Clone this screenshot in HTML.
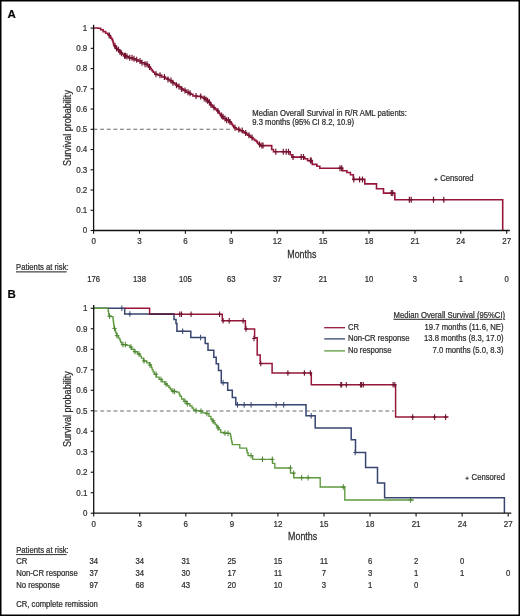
<!DOCTYPE html>
<html><head><meta charset="utf-8"><style>
html,body{margin:0;padding:0;background:#fff;}
body{width:520px;height:616px;overflow:hidden;}
svg{display:block;will-change:transform;}
text{stroke:#3a3a3a;stroke-width:0.22px;}
</style></head><body>
<svg width="520" height="616" viewBox="0 0 520 616" font-family='"Liberation Sans", sans-serif'>
<rect x="0" y="0" width="520" height="616" fill="#fff"/>
<rect x="0.75" y="0.75" width="518.5" height="614.5" fill="none" stroke="#000" stroke-width="1.5"/>

<text transform="translate(7.40,17.60) scale(1,1.0)" font-size="11.5" text-anchor="start" font-weight="bold" fill="#000" font-family='"Liberation Sans", sans-serif'>A</text>
<line x1="93.5" y1="129.3" x2="229.8" y2="129.3" stroke="#6a6a6a" stroke-width="1.1" stroke-dasharray="3.9 2.73"/>
<polyline points="93.60,28.00 96.60,28.00 97.95,28.00 97.95,28.30 99.30,28.30 100.65,28.30 100.65,29.70 102.00,29.70 103.15,29.70 103.15,31.60 104.30,31.60 105.65,31.60 105.65,33.20 107.00,33.20 107.75,33.20 107.75,34.30 108.50,34.30 108.90,34.30 108.90,35.45 109.70,35.45 109.70,36.60 110.10,36.60 110.85,36.60 110.85,38.20 111.60,38.20 111.90,38.20 111.90,39.35 112.50,39.35 112.50,40.50 112.80,40.50 112.97,40.50 112.97,42.00 113.33,42.00 113.33,43.50 113.50,43.50 113.70,43.50 113.70,44.65 114.10,44.65 114.10,45.80 114.30,45.80 115.05,45.80 115.05,47.40 115.80,47.40 116.40,47.40 116.40,48.55 117.60,48.55 117.60,49.70 118.20,49.70 118.78,49.70 118.78,50.85 119.92,50.85 119.92,52.00 120.50,52.00 121.08,52.00 121.08,53.15 122.22,53.15 122.22,54.30 122.80,54.30 123.95,54.30 123.95,55.80 125.10,55.80 126.25,55.80 126.25,56.60 127.40,56.60 128.95,56.60 128.95,57.80 130.50,57.80 132.15,57.80 132.15,58.70 133.80,58.70 135.00,58.70 135.00,59.80 136.20,59.80 137.90,59.80 137.90,61.00 139.60,61.00 141.30,61.00 141.30,62.70 143.00,62.70 144.75,62.70 144.75,64.20 146.50,64.20 147.50,64.20 147.50,65.60 148.50,65.60 149.07,65.60 149.07,67.05 150.23,67.05 150.23,68.50 150.80,68.50 151.28,68.50 151.28,69.77 152.25,69.77 152.25,71.03 153.22,71.03 153.22,72.30 153.70,72.30 154.85,72.30 154.85,74.20 156.00,74.20 158.00,74.20 158.00,75.30 160.00,75.30 161.75,75.30 161.75,77.00 163.50,77.00 165.25,77.00 165.25,78.40 167.00,78.40 167.85,78.40 167.85,79.50 169.55,79.50 169.55,80.60 170.40,80.60 171.25,80.60 171.25,81.70 172.95,81.70 172.95,82.80 173.80,82.80 174.68,82.80 174.68,84.00 176.43,84.00 176.43,85.20 177.30,85.20 178.18,85.20 178.18,86.50 179.93,86.50 179.93,87.80 180.80,87.80 181.65,87.80 181.65,89.10 183.35,89.10 183.35,90.40 184.20,90.40 185.95,90.40 185.95,92.30 187.70,92.30 188.57,92.30 188.57,93.30 190.32,93.30 190.32,94.30 191.20,94.30 192.90,94.30 192.90,96.00 194.60,96.00 196.90,96.00 196.90,96.40 199.20,96.40 200.95,96.40 200.95,97.30 202.70,97.30 203.75,97.30 203.75,98.40 205.85,98.40 205.85,99.50 206.90,99.50 207.47,99.50 207.47,100.85 208.62,100.85 208.62,102.20 209.20,102.20 209.77,102.20 209.77,103.60 210.93,103.60 210.93,105.00 211.50,105.00 212.07,105.00 212.07,106.25 213.23,106.25 213.23,107.50 213.80,107.50 214.53,107.50 214.53,108.65 215.97,108.65 215.97,109.80 216.70,109.80 217.18,109.80 217.18,110.97 218.15,110.97 218.15,112.13 219.12,112.13 219.12,113.30 219.60,113.30 219.98,113.30 219.98,114.43 220.75,114.43 220.75,115.57 221.52,115.57 221.52,116.70 221.90,116.70 223.05,116.70 223.05,118.50 224.20,118.50 225.95,118.50 225.95,120.20 227.70,120.20 229.15,120.20 229.15,121.90 230.60,121.90 230.98,121.90 230.98,123.07 231.75,123.07 231.75,124.23 232.52,124.23 232.52,125.40 232.90,125.40 233.32,125.40 233.32,126.55 234.18,126.55 234.18,127.70 234.60,127.70 236.35,127.70 236.35,129.40 238.10,129.40 239.80,129.40 239.80,130.60 241.50,130.60 242.38,130.60 242.38,131.75 244.12,131.75 244.12,132.90 245.00,132.90 245.88,132.90 245.88,134.05 247.62,134.05 247.62,135.20 248.50,135.20 249.35,135.20 249.35,136.35 251.05,136.35 251.05,137.50 251.90,137.50 252.78,137.50 252.78,138.95 254.53,138.95 254.53,140.40 255.40,140.40 256.05,140.40 256.05,141.00 256.70,141.00 257.00,141.00 257.00,142.15 257.60,142.15 257.60,143.30 257.90,143.30 258.75,143.30 258.75,144.40 259.60,144.40 260.05,144.40 260.05,145.60 260.50,145.60 271.70,145.60 271.70,149.50 273.50,149.50 273.50,151.70 290.20,151.70 290.20,154.80 291.90,154.80 291.90,157.10 304.60,157.10 304.60,158.80 307.50,158.80 307.50,160.60 312.30,160.60 312.30,164.40 316.90,164.40 316.90,166.20 319.80,166.20 319.80,168.20 342.50,168.20 342.50,170.80 346.90,170.80 346.90,172.50 350.40,172.50 350.40,174.80 353.30,174.80 353.30,179.40 364.80,179.40 364.80,183.90 376.50,183.90 376.50,188.70 383.50,188.70 383.50,193.10 394.80,193.10 394.80,199.70 502.70,199.70 502.70,230.50" fill="none" stroke="#961739" stroke-width="1.6" stroke-linejoin="miter"/>
<path d="M109.30 32.45V38.45M107.50 35.45H111.10" stroke="#721430" stroke-width="1.2" fill="none"/>
<path d="M115.00 42.80V48.80M113.20 45.80H116.80" stroke="#721430" stroke-width="1.2" fill="none"/>
<path d="M116.60 45.55V51.55M114.80 48.55H118.40" stroke="#721430" stroke-width="1.2" fill="none"/>
<path d="M118.50 46.70V52.70M116.70 49.70H120.30" stroke="#721430" stroke-width="1.2" fill="none"/>
<path d="M120.00 49.00V55.00M118.20 52.00H121.80" stroke="#721430" stroke-width="1.2" fill="none"/>
<path d="M121.50 50.15V56.15M119.70 53.15H123.30" stroke="#721430" stroke-width="1.2" fill="none"/>
<path d="M124.60 52.80V58.80M122.80 55.80H126.40" stroke="#721430" stroke-width="1.2" fill="none"/>
<path d="M125.50 52.80V58.80M123.70 55.80H127.30" stroke="#721430" stroke-width="1.2" fill="none"/>
<path d="M127.00 53.60V59.60M125.20 56.60H128.80" stroke="#721430" stroke-width="1.2" fill="none"/>
<path d="M129.70 54.80V60.80M127.90 57.80H131.50" stroke="#721430" stroke-width="1.2" fill="none"/>
<path d="M132.00 54.80V60.80M130.20 57.80H133.80" stroke="#721430" stroke-width="1.2" fill="none"/>
<path d="M134.00 55.70V61.70M132.20 58.70H135.80" stroke="#721430" stroke-width="1.2" fill="none"/>
<path d="M136.70 56.80V62.80M134.90 59.80H138.50" stroke="#721430" stroke-width="1.2" fill="none"/>
<path d="M140.00 58.00V64.00M138.20 61.00H141.80" stroke="#721430" stroke-width="1.2" fill="none"/>
<path d="M142.00 59.70V65.70M140.20 62.70H143.80" stroke="#721430" stroke-width="1.2" fill="none"/>
<path d="M145.00 61.20V67.20M143.20 64.20H146.80" stroke="#721430" stroke-width="1.2" fill="none"/>
<path d="M147.00 61.20V67.20M145.20 64.20H148.80" stroke="#721430" stroke-width="1.2" fill="none"/>
<path d="M149.50 64.05V70.05M147.70 67.05H151.30" stroke="#721430" stroke-width="1.2" fill="none"/>
<path d="M156.00 71.20V77.20M154.20 74.20H157.80" stroke="#721430" stroke-width="1.2" fill="none"/>
<path d="M160.00 72.30V78.30M158.20 75.30H161.80" stroke="#721430" stroke-width="1.2" fill="none"/>
<path d="M164.40 74.00V80.00M162.60 77.00H166.20" stroke="#721430" stroke-width="1.2" fill="none"/>
<path d="M168.00 76.50V82.50M166.20 79.50H169.80" stroke="#721430" stroke-width="1.2" fill="none"/>
<path d="M171.00 77.60V83.60M169.20 80.60H172.80" stroke="#721430" stroke-width="1.2" fill="none"/>
<path d="M173.00 79.80V85.80M171.20 82.80H174.80" stroke="#721430" stroke-width="1.2" fill="none"/>
<path d="M176.50 82.20V88.20M174.70 85.20H178.30" stroke="#721430" stroke-width="1.2" fill="none"/>
<path d="M179.00 83.50V89.50M177.20 86.50H180.80" stroke="#721430" stroke-width="1.2" fill="none"/>
<path d="M181.70 86.10V92.10M179.90 89.10H183.50" stroke="#721430" stroke-width="1.2" fill="none"/>
<path d="M185.00 87.40V93.40M183.20 90.40H186.80" stroke="#721430" stroke-width="1.2" fill="none"/>
<path d="M188.00 89.30V95.30M186.20 92.30H189.80" stroke="#721430" stroke-width="1.2" fill="none"/>
<path d="M190.00 90.30V96.30M188.20 93.30H191.80" stroke="#721430" stroke-width="1.2" fill="none"/>
<path d="M196.00 93.00V99.00M194.20 96.00H197.80" stroke="#721430" stroke-width="1.2" fill="none"/>
<path d="M200.70 93.40V99.40M198.90 96.40H202.50" stroke="#721430" stroke-width="1.2" fill="none"/>
<path d="M204.20 95.40V101.40M202.40 98.40H206.00" stroke="#721430" stroke-width="1.2" fill="none"/>
<path d="M206.00 96.50V102.50M204.20 99.50H207.80" stroke="#721430" stroke-width="1.2" fill="none"/>
<path d="M207.60 97.85V103.85M205.80 100.85H209.40" stroke="#721430" stroke-width="1.2" fill="none"/>
<path d="M209.40 99.20V105.20M207.60 102.20H211.20" stroke="#721430" stroke-width="1.2" fill="none"/>
<path d="M211.00 102.00V108.00M209.20 105.00H212.80" stroke="#721430" stroke-width="1.2" fill="none"/>
<path d="M214.00 104.50V110.50M212.20 107.50H215.80" stroke="#721430" stroke-width="1.2" fill="none"/>
<path d="M218.00 107.97V113.97M216.20 110.97H219.80" stroke="#721430" stroke-width="1.2" fill="none"/>
<path d="M221.50 112.57V118.57M219.70 115.57H223.30" stroke="#721430" stroke-width="1.2" fill="none"/>
<path d="M223.00 113.70V119.70M221.20 116.70H224.80" stroke="#721430" stroke-width="1.2" fill="none"/>
<path d="M225.00 115.50V121.50M223.20 118.50H226.80" stroke="#721430" stroke-width="1.2" fill="none"/>
<path d="M226.70 117.20V123.20M224.90 120.20H228.50" stroke="#721430" stroke-width="1.2" fill="none"/>
<path d="M228.50 117.20V123.20M226.70 120.20H230.30" stroke="#721430" stroke-width="1.2" fill="none"/>
<path d="M230.00 118.90V124.90M228.20 121.90H231.80" stroke="#721430" stroke-width="1.2" fill="none"/>
<path d="M235.00 124.70V130.70M233.20 127.70H236.80" stroke="#721430" stroke-width="1.2" fill="none"/>
<path d="M238.80 126.40V132.40M237.00 129.40H240.60" stroke="#721430" stroke-width="1.2" fill="none"/>
<path d="M242.20 127.60V133.60M240.40 130.60H244.00" stroke="#721430" stroke-width="1.2" fill="none"/>
<path d="M245.70 129.90V135.90M243.90 132.90H247.50" stroke="#721430" stroke-width="1.2" fill="none"/>
<path d="M249.00 132.20V138.20M247.20 135.20H250.80" stroke="#721430" stroke-width="1.2" fill="none"/>
<path d="M252.00 134.50V140.50M250.20 137.50H253.80" stroke="#721430" stroke-width="1.2" fill="none"/>
<path d="M259.60 141.40V147.40M257.80 144.40H261.40" stroke="#721430" stroke-width="1.2" fill="none"/>
<path d="M261.90 142.60V148.60M260.10 145.60H263.70" stroke="#721430" stroke-width="1.2" fill="none"/>
<path d="M263.00 142.60V148.60M261.20 145.60H264.80" stroke="#721430" stroke-width="1.2" fill="none"/>
<path d="M275.80 148.70V154.70M274.00 151.70H277.60" stroke="#721430" stroke-width="1.2" fill="none"/>
<path d="M283.30 148.70V154.70M281.50 151.70H285.10" stroke="#721430" stroke-width="1.2" fill="none"/>
<path d="M286.20 148.70V154.70M284.40 151.70H288.00" stroke="#721430" stroke-width="1.2" fill="none"/>
<path d="M288.50 148.70V154.70M286.70 151.70H290.30" stroke="#721430" stroke-width="1.2" fill="none"/>
<path d="M293.00 154.10V160.10M291.20 157.10H294.80" stroke="#721430" stroke-width="1.2" fill="none"/>
<path d="M301.20 154.10V160.10M299.40 157.10H303.00" stroke="#721430" stroke-width="1.2" fill="none"/>
<path d="M303.50 154.10V160.10M301.70 157.10H305.30" stroke="#721430" stroke-width="1.2" fill="none"/>
<path d="M310.40 157.60V163.60M308.60 160.60H312.20" stroke="#721430" stroke-width="1.2" fill="none"/>
<path d="M311.20 157.60V163.60M309.40 160.60H313.00" stroke="#721430" stroke-width="1.2" fill="none"/>
<path d="M340.00 165.20V171.20M338.20 168.20H341.80" stroke="#721430" stroke-width="1.2" fill="none"/>
<path d="M341.70 165.20V171.20M339.90 168.20H343.50" stroke="#721430" stroke-width="1.2" fill="none"/>
<path d="M353.80 176.40V182.40M352.00 179.40H355.60" stroke="#721430" stroke-width="1.2" fill="none"/>
<path d="M359.60 176.40V182.40M357.80 179.40H361.40" stroke="#721430" stroke-width="1.2" fill="none"/>
<path d="M362.50 176.40V182.40M360.70 179.40H364.30" stroke="#721430" stroke-width="1.2" fill="none"/>
<path d="M391.30 190.10V196.10M389.50 193.10H393.10" stroke="#721430" stroke-width="1.2" fill="none"/>
<path d="M392.70 190.10V196.10M390.90 193.10H394.50" stroke="#721430" stroke-width="1.2" fill="none"/>
<path d="M409.40 196.70V202.70M407.60 199.70H411.20" stroke="#721430" stroke-width="1.2" fill="none"/>
<path d="M411.20 196.70V202.70M409.40 199.70H413.00" stroke="#721430" stroke-width="1.2" fill="none"/>
<path d="M433.50 196.70V202.70M431.70 199.70H435.30" stroke="#721430" stroke-width="1.2" fill="none"/>
<path d="M443.80 196.70V202.70M442.00 199.70H445.60" stroke="#721430" stroke-width="1.2" fill="none"/>
<g stroke="#111" fill="none">
<line x1="93.6" y1="24.8" x2="93.6" y2="231.1" stroke-width="1.3"/>
<line x1="93.0" y1="230.5" x2="509.8" y2="230.5" stroke-width="1.3"/>
<line x1="90.6" y1="230.50" x2="93.6" y2="230.50" stroke-width="1.1"/>
<line x1="90.6" y1="210.26" x2="93.6" y2="210.26" stroke-width="1.1"/>
<line x1="90.6" y1="190.02" x2="93.6" y2="190.02" stroke-width="1.1"/>
<line x1="90.6" y1="169.78" x2="93.6" y2="169.78" stroke-width="1.1"/>
<line x1="90.6" y1="149.54" x2="93.6" y2="149.54" stroke-width="1.1"/>
<line x1="90.6" y1="129.30" x2="93.6" y2="129.30" stroke-width="1.1"/>
<line x1="90.6" y1="109.06" x2="93.6" y2="109.06" stroke-width="1.1"/>
<line x1="90.6" y1="88.82" x2="93.6" y2="88.82" stroke-width="1.1"/>
<line x1="90.6" y1="68.58" x2="93.6" y2="68.58" stroke-width="1.1"/>
<line x1="90.6" y1="48.34" x2="93.6" y2="48.34" stroke-width="1.1"/>
<line x1="90.6" y1="28.10" x2="93.6" y2="28.10" stroke-width="1.1"/>
<line x1="93.60" y1="230.5" x2="93.60" y2="233.7" stroke-width="1.1"/>
<line x1="139.50" y1="230.5" x2="139.50" y2="233.7" stroke-width="1.1"/>
<line x1="185.40" y1="230.5" x2="185.40" y2="233.7" stroke-width="1.1"/>
<line x1="231.30" y1="230.5" x2="231.30" y2="233.7" stroke-width="1.1"/>
<line x1="277.20" y1="230.5" x2="277.20" y2="233.7" stroke-width="1.1"/>
<line x1="323.10" y1="230.5" x2="323.10" y2="233.7" stroke-width="1.1"/>
<line x1="369.00" y1="230.5" x2="369.00" y2="233.7" stroke-width="1.1"/>
<line x1="414.90" y1="230.5" x2="414.90" y2="233.7" stroke-width="1.1"/>
<line x1="460.80" y1="230.5" x2="460.80" y2="233.7" stroke-width="1.1"/>
<line x1="506.70" y1="230.5" x2="506.70" y2="233.7" stroke-width="1.1"/>
</g>
<g fill="#2a2a2a" font-family='"Liberation Sans", sans-serif'>
<text transform="translate(87.30,233.40) scale(1,1.07)" font-size="8" text-anchor="end" font-weight="normal" >0</text>
<text transform="translate(87.30,213.16) scale(1,1.07)" font-size="8" text-anchor="end" font-weight="normal" >0.1</text>
<text transform="translate(87.30,192.92) scale(1,1.07)" font-size="8" text-anchor="end" font-weight="normal" >0.2</text>
<text transform="translate(87.30,172.68) scale(1,1.07)" font-size="8" text-anchor="end" font-weight="normal" >0.3</text>
<text transform="translate(87.30,152.44) scale(1,1.07)" font-size="8" text-anchor="end" font-weight="normal" >0.4</text>
<text transform="translate(87.30,132.20) scale(1,1.07)" font-size="8" text-anchor="end" font-weight="normal" >0.5</text>
<text transform="translate(87.30,111.96) scale(1,1.07)" font-size="8" text-anchor="end" font-weight="normal" >0.6</text>
<text transform="translate(87.30,91.72) scale(1,1.07)" font-size="8" text-anchor="end" font-weight="normal" >0.7</text>
<text transform="translate(87.30,71.48) scale(1,1.07)" font-size="8" text-anchor="end" font-weight="normal" >0.8</text>
<text transform="translate(87.30,51.24) scale(1,1.07)" font-size="8" text-anchor="end" font-weight="normal" >0.9</text>
<text transform="translate(87.30,31.00) scale(1,1.07)" font-size="8" text-anchor="end" font-weight="normal" >1</text>
<text transform="translate(93.60,244.10) scale(1,1.07)" font-size="8" text-anchor="middle" font-weight="normal" >0</text>
<text transform="translate(139.50,244.10) scale(1,1.07)" font-size="8" text-anchor="middle" font-weight="normal" >3</text>
<text transform="translate(185.40,244.10) scale(1,1.07)" font-size="8" text-anchor="middle" font-weight="normal" >6</text>
<text transform="translate(231.30,244.10) scale(1,1.07)" font-size="8" text-anchor="middle" font-weight="normal" >9</text>
<text transform="translate(277.20,244.10) scale(1,1.07)" font-size="8" text-anchor="middle" font-weight="normal" >12</text>
<text transform="translate(323.10,244.10) scale(1,1.07)" font-size="8" text-anchor="middle" font-weight="normal" >15</text>
<text transform="translate(369.00,244.10) scale(1,1.07)" font-size="8" text-anchor="middle" font-weight="normal" >18</text>
<text transform="translate(414.90,244.10) scale(1,1.07)" font-size="8" text-anchor="middle" font-weight="normal" >21</text>
<text transform="translate(460.80,244.10) scale(1,1.07)" font-size="8" text-anchor="middle" font-weight="normal" >24</text>
<text transform="translate(506.70,244.10) scale(1,1.07)" font-size="8" text-anchor="middle" font-weight="normal" >27</text>
</g>
<g fill="#262626" font-family='"Liberation Sans", sans-serif'>
<text transform="translate(301.80,257.70) scale(1,1.2)" font-size="8.9" text-anchor="middle" font-weight="normal" >Months</text>
<text transform="translate(71.3,128.0) rotate(-90)" x="0" y="0" font-size="10.4" text-anchor="middle" textLength="75.8" lengthAdjust="spacingAndGlyphs">Survival probability</text>
<text transform="translate(252.30,115.70) scale(1,1.08)" font-size="7.7" text-anchor="start" font-weight="normal" textLength="154.6">Median Overall Survival in R/R AML patients:</text>
<text transform="translate(252.30,125.30) scale(1,1.08)" font-size="7.7" text-anchor="start" font-weight="normal" textLength="101.8">9.3 months (95% CI 8.2, 10.9)</text>
<text transform="translate(440.20,181.40) scale(1,1.08)" font-size="7.7" text-anchor="start" font-weight="normal" >Censored</text>
<path d="M434.2 179.4H437.6M435.9 177.7V181.1" stroke="#333" stroke-width="0.9" fill="none"/>
<text transform="translate(16.10,270.40) scale(1,1.08)" font-size="7.7" text-anchor="start" font-weight="normal" text-decoration="underline">Patients at risk</text>
</g>
<g fill="#262626" font-family='"Liberation Sans", sans-serif'>
<text transform="translate(66.50,270.40) scale(1,1.08)" font-size="7.7" text-anchor="start" font-weight="normal" >:</text>
</g>
<g fill="#262626" font-family='"Liberation Sans", sans-serif'>
<text transform="translate(93.60,281.50) scale(1,1.08)" font-size="7.7" text-anchor="middle" font-weight="normal" >176</text>
</g>
<g fill="#262626" font-family='"Liberation Sans", sans-serif'>
<text transform="translate(139.50,281.50) scale(1,1.08)" font-size="7.7" text-anchor="middle" font-weight="normal" >138</text>
</g>
<g fill="#262626" font-family='"Liberation Sans", sans-serif'>
<text transform="translate(185.40,281.50) scale(1,1.08)" font-size="7.7" text-anchor="middle" font-weight="normal" >105</text>
</g>
<g fill="#262626" font-family='"Liberation Sans", sans-serif'>
<text transform="translate(231.30,281.50) scale(1,1.08)" font-size="7.7" text-anchor="middle" font-weight="normal" >63</text>
</g>
<g fill="#262626" font-family='"Liberation Sans", sans-serif'>
<text transform="translate(277.20,281.50) scale(1,1.08)" font-size="7.7" text-anchor="middle" font-weight="normal" >37</text>
</g>
<g fill="#262626" font-family='"Liberation Sans", sans-serif'>
<text transform="translate(323.10,281.50) scale(1,1.08)" font-size="7.7" text-anchor="middle" font-weight="normal" >21</text>
</g>
<g fill="#262626" font-family='"Liberation Sans", sans-serif'>
<text transform="translate(369.00,281.50) scale(1,1.08)" font-size="7.7" text-anchor="middle" font-weight="normal" >10</text>
</g>
<g fill="#262626" font-family='"Liberation Sans", sans-serif'>
<text transform="translate(414.90,281.50) scale(1,1.08)" font-size="7.7" text-anchor="middle" font-weight="normal" >3</text>
</g>
<g fill="#262626" font-family='"Liberation Sans", sans-serif'>
<text transform="translate(460.80,281.50) scale(1,1.08)" font-size="7.7" text-anchor="middle" font-weight="normal" >1</text>
</g>
<g fill="#262626" font-family='"Liberation Sans", sans-serif'>
<text transform="translate(506.70,281.50) scale(1,1.08)" font-size="7.7" text-anchor="middle" font-weight="normal" >0</text>
</g>
<text transform="translate(7.60,298.00) scale(1,1.0)" font-size="11.5" text-anchor="start" font-weight="bold" fill="#000" font-family='"Liberation Sans", sans-serif'>B</text>
<line x1="93.6" y1="411.0" x2="394.2" y2="411.0" stroke="#6a6a6a" stroke-width="1.1" stroke-dasharray="3.9 2.73"/>
<polyline points="93.70,308.30 108.00,308.30 108.20,308.30 108.20,311.40 108.40,311.40 108.60,311.40 108.60,313.80 109.00,313.80 109.00,316.20 109.20,316.20 111.05,316.20 111.05,316.60 112.90,316.60 113.00,316.60 113.00,318.45 113.20,318.45 113.20,320.30 113.30,320.30 113.43,320.30 113.43,322.47 113.70,322.47 113.70,324.63 113.97,324.63 113.97,326.80 114.10,326.80 114.40,326.80 114.40,328.40 115.00,328.40 115.00,330.00 115.30,330.00 115.50,330.00 115.50,331.65 115.90,331.65 115.90,333.30 116.10,333.30 116.90,333.30 116.90,335.70 117.70,335.70 118.55,335.70 118.55,338.10 119.40,338.10 119.80,338.10 119.80,340.15 120.60,340.15 120.60,342.20 121.00,342.20 121.80,342.20 121.80,344.60 122.60,344.60 125.85,344.60 125.85,345.30 129.10,345.30 129.90,345.30 129.90,347.10 130.70,347.10 131.50,347.10 131.50,349.20 132.30,349.20 134.05,349.20 134.05,351.70 135.80,351.70 137.50,351.70 137.50,354.00 139.20,354.00 139.92,354.00 139.92,356.05 141.38,356.05 141.38,358.10 142.10,358.10 143.55,358.10 143.55,361.00 145.00,361.00 146.75,361.00 146.75,362.70 148.50,362.70 149.65,362.70 149.65,365.00 150.80,365.00 151.23,365.00 151.23,367.30 152.07,367.30 152.07,369.60 152.50,369.60 153.07,369.60 153.07,371.90 154.23,371.90 154.23,374.20 154.80,374.20 156.25,374.20 156.25,377.10 157.70,377.10 159.15,377.10 159.15,379.40 160.60,379.40 162.05,379.40 162.05,381.70 163.50,381.70 164.90,381.70 164.90,384.00 166.30,384.00 167.18,384.00 167.18,385.75 168.93,385.75 168.93,387.50 169.80,387.50 170.38,387.50 170.38,389.25 171.53,389.25 171.53,391.00 172.10,391.00 173.35,391.00 173.35,391.50 174.60,391.50 176.65,391.50 176.65,392.10 178.70,392.10 179.12,392.10 179.12,394.15 179.97,394.15 179.97,396.20 180.40,396.20 181.55,396.20 181.55,399.00 182.70,399.00 183.85,399.00 183.85,401.30 185.00,401.30 186.75,401.30 186.75,403.70 188.50,403.70 189.90,403.70 189.90,406.00 191.30,406.00 192.03,406.00 192.03,408.00 193.47,408.00 193.47,410.00 194.20,410.00 195.95,410.00 195.95,410.60 197.70,410.60 199.45,410.60 199.45,411.20 201.20,411.20 202.35,411.20 202.35,412.90 203.50,412.90 205.80,412.90 205.80,413.50 208.10,413.50 208.95,413.50 208.95,416.30 209.80,416.30 210.95,416.30 210.95,419.20 212.10,419.20 212.68,419.20 212.68,420.95 213.82,420.95 213.82,422.70 214.40,422.70 215.12,422.70 215.12,424.45 216.58,424.45 216.58,426.20 217.30,426.20 217.88,426.20 217.88,427.90 219.03,427.90 219.03,429.60 219.60,429.60 220.75,429.60 220.75,432.50 221.90,432.50 223.65,432.50 223.65,433.10 225.40,433.10 227.80,433.10 227.80,433.30 230.20,433.30 230.35,433.30 230.35,434.90 230.65,434.90 230.65,436.50 230.80,436.50 231.01,436.50 231.01,438.52 231.44,438.52 231.44,440.55 231.86,440.55 231.86,442.58 232.29,442.58 232.29,444.60 232.50,444.60 239.80,444.60 239.80,448.10 246.30,448.10 246.60,448.10 246.60,450.40 247.20,450.40 247.20,452.70 247.50,452.70 248.10,452.70 248.10,455.60 248.70,455.60 252.70,455.60 252.70,459.30 272.50,459.30 272.50,463.30 274.80,463.30 274.80,468.00 290.50,468.00 290.50,473.10 293.70,473.10 293.70,477.70 320.20,477.70 320.20,487.00 344.80,487.00 344.80,500.00 413.80,500.00" fill="none" stroke="#5e9a3e" stroke-width="1.35"/>
<path d="M109.60 313.40V319.00M107.40 316.20H111.80" stroke="#4f8436" stroke-width="1.0" fill="none"/>
<path d="M114.50 325.60V331.20M112.30 328.40H116.70" stroke="#4f8436" stroke-width="1.0" fill="none"/>
<path d="M117.00 332.90V338.50M114.80 335.70H119.20" stroke="#4f8436" stroke-width="1.0" fill="none"/>
<path d="M123.00 341.80V347.40M120.80 344.60H125.20" stroke="#4f8436" stroke-width="1.0" fill="none"/>
<path d="M125.40 341.80V347.40M123.20 344.60H127.60" stroke="#4f8436" stroke-width="1.0" fill="none"/>
<path d="M131.00 344.30V349.90M128.80 347.10H133.20" stroke="#4f8436" stroke-width="1.0" fill="none"/>
<path d="M135.00 348.90V354.50M132.80 351.70H137.20" stroke="#4f8436" stroke-width="1.0" fill="none"/>
<path d="M139.00 351.20V356.80M136.80 354.00H141.20" stroke="#4f8436" stroke-width="1.0" fill="none"/>
<path d="M144.00 358.20V363.80M141.80 361.00H146.20" stroke="#4f8436" stroke-width="1.0" fill="none"/>
<path d="M150.00 362.20V367.80M147.80 365.00H152.20" stroke="#4f8436" stroke-width="1.0" fill="none"/>
<path d="M156.00 371.40V377.00M153.80 374.20H158.20" stroke="#4f8436" stroke-width="1.0" fill="none"/>
<path d="M161.00 376.60V382.20M158.80 379.40H163.20" stroke="#4f8436" stroke-width="1.0" fill="none"/>
<path d="M166.00 381.20V386.80M163.80 384.00H168.20" stroke="#4f8436" stroke-width="1.0" fill="none"/>
<path d="M172.90 388.20V393.80M170.70 391.00H175.10" stroke="#4f8436" stroke-width="1.0" fill="none"/>
<path d="M174.60 388.70V394.30M172.40 391.50H176.80" stroke="#4f8436" stroke-width="1.0" fill="none"/>
<path d="M185.00 398.50V404.10M182.80 401.30H187.20" stroke="#4f8436" stroke-width="1.0" fill="none"/>
<path d="M187.30 400.90V406.50M185.10 403.70H189.50" stroke="#4f8436" stroke-width="1.0" fill="none"/>
<path d="M196.00 407.80V413.40M193.80 410.60H198.20" stroke="#4f8436" stroke-width="1.0" fill="none"/>
<path d="M201.00 408.40V414.00M198.80 411.20H203.20" stroke="#4f8436" stroke-width="1.0" fill="none"/>
<path d="M206.90 410.70V416.30M204.70 413.50H209.10" stroke="#4f8436" stroke-width="1.0" fill="none"/>
<path d="M213.00 418.15V423.75M210.80 420.95H215.20" stroke="#4f8436" stroke-width="1.0" fill="none"/>
<path d="M218.00 425.10V430.70M215.80 427.90H220.20" stroke="#4f8436" stroke-width="1.0" fill="none"/>
<path d="M225.00 430.30V435.90M222.80 433.10H227.20" stroke="#4f8436" stroke-width="1.0" fill="none"/>
<path d="M228.00 430.50V436.10M225.80 433.30H230.20" stroke="#4f8436" stroke-width="1.0" fill="none"/>
<path d="M251.00 452.80V458.40M248.80 455.60H253.20" stroke="#4f8436" stroke-width="1.0" fill="none"/>
<path d="M262.50 456.50V462.10M260.30 459.30H264.70" stroke="#4f8436" stroke-width="1.0" fill="none"/>
<path d="M272.30 456.50V462.10M270.10 459.30H274.50" stroke="#4f8436" stroke-width="1.0" fill="none"/>
<path d="M290.50 465.20V470.80M288.30 468.00H292.70" stroke="#4f8436" stroke-width="1.0" fill="none"/>
<path d="M293.70 470.30V475.90M291.50 473.10H295.90" stroke="#4f8436" stroke-width="1.0" fill="none"/>
<path d="M301.70 474.90V480.50M299.50 477.70H303.90" stroke="#4f8436" stroke-width="1.0" fill="none"/>
<path d="M308.10 474.90V480.50M305.90 477.70H310.30" stroke="#4f8436" stroke-width="1.0" fill="none"/>
<path d="M343.30 484.20V489.80M341.10 487.00H345.50" stroke="#4f8436" stroke-width="1.0" fill="none"/>
<path d="M410.60 497.20V502.80M408.40 500.00H412.80" stroke="#4f8436" stroke-width="1.0" fill="none"/>
<polyline points="93.70,308.30 124.70,308.30 124.70,314.00 174.00,314.00 174.00,319.60 176.00,319.60 176.00,323.50 176.90,323.50 176.90,331.20 190.80,331.20 190.80,337.50 205.20,337.50 205.20,343.40 208.00,343.40 208.00,350.30 213.80,350.30 213.80,357.30 216.20,357.30 216.20,363.70 218.50,363.70 218.50,370.60 221.30,370.60 221.30,382.70 227.70,382.70 227.70,390.20 232.30,390.20 232.30,397.50 235.80,397.50 235.80,404.80 306.00,404.80 306.00,415.80 315.20,415.80 315.20,428.00 351.20,428.00 351.20,439.80 355.50,439.80 355.50,452.50 365.60,452.50 365.60,467.50 377.50,467.50 377.50,483.00 384.60,483.00 384.60,497.70 504.40,497.70 504.40,513.20" fill="none" stroke="#37456f" stroke-width="1.5"/>
<path d="M121.90 305.50V311.10M120.10 308.30H123.70" stroke="#37456f" stroke-width="1.0" fill="none"/>
<path d="M129.90 311.20V316.80M128.10 314.00H131.70" stroke="#37456f" stroke-width="1.0" fill="none"/>
<path d="M182.70 328.40V334.00M180.90 331.20H184.50" stroke="#37456f" stroke-width="1.0" fill="none"/>
<path d="M200.60 334.70V340.30M198.80 337.50H202.40" stroke="#37456f" stroke-width="1.0" fill="none"/>
<path d="M223.10 379.90V385.50M221.30 382.70H224.90" stroke="#37456f" stroke-width="1.0" fill="none"/>
<path d="M237.50 402.00V407.60M235.70 404.80H239.30" stroke="#37456f" stroke-width="1.0" fill="none"/>
<path d="M244.20 402.00V407.60M242.40 404.80H246.00" stroke="#37456f" stroke-width="1.0" fill="none"/>
<path d="M251.10 402.00V407.60M249.30 404.80H252.90" stroke="#37456f" stroke-width="1.0" fill="none"/>
<path d="M276.20 402.00V407.60M274.40 404.80H278.00" stroke="#37456f" stroke-width="1.0" fill="none"/>
<path d="M283.70 402.00V407.60M281.90 404.80H285.50" stroke="#37456f" stroke-width="1.0" fill="none"/>
<path d="M311.20 413.00V418.60M309.40 415.80H313.00" stroke="#37456f" stroke-width="1.0" fill="none"/>
<path d="M355.20 449.70V455.30M353.40 452.50H357.00" stroke="#37456f" stroke-width="1.0" fill="none"/>
<polyline points="124.70,308.30 149.60,308.30 149.60,314.30 222.30,314.30 222.30,320.70 245.40,320.70 245.40,328.90 254.60,328.90 254.60,337.70 257.20,337.70 257.20,355.00 260.20,355.00 260.20,363.50 272.10,363.50 272.10,373.00 311.30,373.00 311.30,384.80 395.60,384.80 395.60,417.10 448.50,417.10" fill="none" stroke="#961739" stroke-width="1.5"/>
<path d="M179.80 311.50V317.10M178.00 314.30H181.60" stroke="#721430" stroke-width="1.1" fill="none"/>
<path d="M181.50 311.50V317.10M179.70 314.30H183.30" stroke="#721430" stroke-width="1.1" fill="none"/>
<path d="M191.10 311.50V317.10M189.30 314.30H192.90" stroke="#721430" stroke-width="1.1" fill="none"/>
<path d="M219.60 311.50V317.10M217.80 314.30H221.40" stroke="#721430" stroke-width="1.1" fill="none"/>
<path d="M223.10 317.90V323.50M221.30 320.70H224.90" stroke="#721430" stroke-width="1.1" fill="none"/>
<path d="M229.20 317.90V323.50M227.40 320.70H231.00" stroke="#721430" stroke-width="1.1" fill="none"/>
<path d="M243.10 317.90V323.50M241.30 320.70H244.90" stroke="#721430" stroke-width="1.1" fill="none"/>
<path d="M246.00 326.10V331.70M244.20 328.90H247.80" stroke="#721430" stroke-width="1.1" fill="none"/>
<path d="M254.00 335.70V341.30M252.20 338.50H255.80" stroke="#721430" stroke-width="1.1" fill="none"/>
<path d="M260.80 360.70V366.30M259.00 363.50H262.60" stroke="#721430" stroke-width="1.1" fill="none"/>
<path d="M287.90 370.20V375.80M286.10 373.00H289.70" stroke="#721430" stroke-width="1.1" fill="none"/>
<path d="M304.40 370.20V375.80M302.60 373.00H306.20" stroke="#721430" stroke-width="1.1" fill="none"/>
<path d="M310.40 370.20V375.80M308.60 373.00H312.20" stroke="#721430" stroke-width="1.1" fill="none"/>
<path d="M340.80 382.00V387.60M339.00 384.80H342.60" stroke="#721430" stroke-width="1.1" fill="none"/>
<path d="M341.70 382.00V387.60M339.90 384.80H343.50" stroke="#721430" stroke-width="1.1" fill="none"/>
<path d="M346.30 382.00V387.60M344.50 384.80H348.10" stroke="#721430" stroke-width="1.1" fill="none"/>
<path d="M360.60 382.00V387.60M358.80 384.80H362.40" stroke="#721430" stroke-width="1.1" fill="none"/>
<path d="M361.60 382.00V387.60M359.80 384.80H363.40" stroke="#721430" stroke-width="1.1" fill="none"/>
<path d="M363.30 382.00V387.60M361.50 384.80H365.10" stroke="#721430" stroke-width="1.1" fill="none"/>
<path d="M393.10 382.00V387.60M391.30 384.80H394.90" stroke="#721430" stroke-width="1.1" fill="none"/>
<path d="M394.80 382.00V387.60M393.00 384.80H396.60" stroke="#721430" stroke-width="1.1" fill="none"/>
<path d="M412.70 414.30V419.90M410.90 417.10H414.50" stroke="#721430" stroke-width="1.1" fill="none"/>
<path d="M434.60 414.30V419.90M432.80 417.10H436.40" stroke="#721430" stroke-width="1.1" fill="none"/>
<path d="M445.60 414.30V419.90M443.80 417.10H447.40" stroke="#721430" stroke-width="1.1" fill="none"/>
<line x1="149.6" y1="314.2" x2="174" y2="314.2" stroke="#4a2448" stroke-width="1.5"/>
<line x1="93.7" y1="308.3" x2="108" y2="308.3" stroke="#5e9a3e" stroke-width="1.35"/>
<g stroke="#111" fill="none">
<line x1="93.7" y1="305.0" x2="93.7" y2="513.8000000000001" stroke-width="1.3"/>
<line x1="93.10000000000001" y1="513.2" x2="511.3" y2="513.2" stroke-width="1.3"/>
<line x1="90.7" y1="513.20" x2="93.7" y2="513.20" stroke-width="1.1"/>
<line x1="90.7" y1="492.71" x2="93.7" y2="492.71" stroke-width="1.1"/>
<line x1="90.7" y1="472.22" x2="93.7" y2="472.22" stroke-width="1.1"/>
<line x1="90.7" y1="451.73" x2="93.7" y2="451.73" stroke-width="1.1"/>
<line x1="90.7" y1="431.24" x2="93.7" y2="431.24" stroke-width="1.1"/>
<line x1="90.7" y1="410.75" x2="93.7" y2="410.75" stroke-width="1.1"/>
<line x1="90.7" y1="390.26" x2="93.7" y2="390.26" stroke-width="1.1"/>
<line x1="90.7" y1="369.77" x2="93.7" y2="369.77" stroke-width="1.1"/>
<line x1="90.7" y1="349.28" x2="93.7" y2="349.28" stroke-width="1.1"/>
<line x1="90.7" y1="328.79" x2="93.7" y2="328.79" stroke-width="1.1"/>
<line x1="90.7" y1="308.30" x2="93.7" y2="308.30" stroke-width="1.1"/>
<line x1="93.70" y1="513.2" x2="93.70" y2="516.4000000000001" stroke-width="1.1"/>
<line x1="139.76" y1="513.2" x2="139.76" y2="516.4000000000001" stroke-width="1.1"/>
<line x1="185.81" y1="513.2" x2="185.81" y2="516.4000000000001" stroke-width="1.1"/>
<line x1="231.87" y1="513.2" x2="231.87" y2="516.4000000000001" stroke-width="1.1"/>
<line x1="277.92" y1="513.2" x2="277.92" y2="516.4000000000001" stroke-width="1.1"/>
<line x1="323.98" y1="513.2" x2="323.98" y2="516.4000000000001" stroke-width="1.1"/>
<line x1="370.03" y1="513.2" x2="370.03" y2="516.4000000000001" stroke-width="1.1"/>
<line x1="416.09" y1="513.2" x2="416.09" y2="516.4000000000001" stroke-width="1.1"/>
<line x1="462.14" y1="513.2" x2="462.14" y2="516.4000000000001" stroke-width="1.1"/>
<line x1="508.20" y1="513.2" x2="508.20" y2="516.4000000000001" stroke-width="1.1"/>
</g>
<g fill="#2a2a2a" font-family='"Liberation Sans", sans-serif'>
<text transform="translate(87.40,516.10) scale(1,1.07)" font-size="8" text-anchor="end" font-weight="normal" >0</text>
<text transform="translate(87.40,495.61) scale(1,1.07)" font-size="8" text-anchor="end" font-weight="normal" >0.1</text>
<text transform="translate(87.40,475.12) scale(1,1.07)" font-size="8" text-anchor="end" font-weight="normal" >0.2</text>
<text transform="translate(87.40,454.63) scale(1,1.07)" font-size="8" text-anchor="end" font-weight="normal" >0.3</text>
<text transform="translate(87.40,434.14) scale(1,1.07)" font-size="8" text-anchor="end" font-weight="normal" >0.4</text>
<text transform="translate(87.40,413.65) scale(1,1.07)" font-size="8" text-anchor="end" font-weight="normal" >0.5</text>
<text transform="translate(87.40,393.16) scale(1,1.07)" font-size="8" text-anchor="end" font-weight="normal" >0.6</text>
<text transform="translate(87.40,372.67) scale(1,1.07)" font-size="8" text-anchor="end" font-weight="normal" >0.7</text>
<text transform="translate(87.40,352.18) scale(1,1.07)" font-size="8" text-anchor="end" font-weight="normal" >0.8</text>
<text transform="translate(87.40,331.69) scale(1,1.07)" font-size="8" text-anchor="end" font-weight="normal" >0.9</text>
<text transform="translate(87.40,311.20) scale(1,1.07)" font-size="8" text-anchor="end" font-weight="normal" >1</text>
<text transform="translate(93.70,526.80) scale(1,1.07)" font-size="8" text-anchor="middle" font-weight="normal" >0</text>
<text transform="translate(139.76,526.80) scale(1,1.07)" font-size="8" text-anchor="middle" font-weight="normal" >3</text>
<text transform="translate(185.81,526.80) scale(1,1.07)" font-size="8" text-anchor="middle" font-weight="normal" >6</text>
<text transform="translate(231.87,526.80) scale(1,1.07)" font-size="8" text-anchor="middle" font-weight="normal" >9</text>
<text transform="translate(277.92,526.80) scale(1,1.07)" font-size="8" text-anchor="middle" font-weight="normal" >12</text>
<text transform="translate(323.98,526.80) scale(1,1.07)" font-size="8" text-anchor="middle" font-weight="normal" >15</text>
<text transform="translate(370.03,526.80) scale(1,1.07)" font-size="8" text-anchor="middle" font-weight="normal" >18</text>
<text transform="translate(416.09,526.80) scale(1,1.07)" font-size="8" text-anchor="middle" font-weight="normal" >21</text>
<text transform="translate(462.14,526.80) scale(1,1.07)" font-size="8" text-anchor="middle" font-weight="normal" >24</text>
<text transform="translate(508.20,526.80) scale(1,1.07)" font-size="8" text-anchor="middle" font-weight="normal" >27</text>
</g>
<g fill="#262626" font-family='"Liberation Sans", sans-serif'>
<text transform="translate(302.60,540.20) scale(1,1.2)" font-size="8.9" text-anchor="middle" font-weight="normal" >Months</text>
<text transform="translate(71.3,409.2) rotate(-90)" x="0" y="0" font-size="10.4" text-anchor="middle" textLength="75.8" lengthAdjust="spacingAndGlyphs">Survival probability</text>
<text transform="translate(471.60,480.30) scale(1,1.08)" font-size="7.7" text-anchor="start" font-weight="normal" >Censored</text>
<path d="M465.4 478.3H468.8M467.1 476.6V480.0" stroke="#333" stroke-width="0.9" fill="none"/>
<line x1="324.2" y1="327.7" x2="345" y2="327.7" stroke="#961739" stroke-width="1.3"/>
<text transform="translate(347.90,329.80) scale(1,1.08)" font-size="7.7" text-anchor="start" font-weight="normal" >CR</text>
<text transform="translate(503.50,329.80) scale(1,1.08)" font-size="7.7" text-anchor="end" font-weight="normal" >19.7 months (11.6, NE)</text>
<line x1="324.2" y1="338.9" x2="345" y2="338.9" stroke="#37456f" stroke-width="1.3"/>
<text transform="translate(347.90,341.00) scale(1,1.08)" font-size="7.7" text-anchor="start" font-weight="normal" >Non-CR response</text>
<text transform="translate(503.50,341.00) scale(1,1.08)" font-size="7.7" text-anchor="end" font-weight="normal" >13.8 months (8.3, 17.0)</text>
<line x1="324.2" y1="350.9" x2="345" y2="350.9" stroke="#5e9a3e" stroke-width="1.3"/>
<text transform="translate(347.90,353.00) scale(1,1.08)" font-size="7.7" text-anchor="start" font-weight="normal" >No response</text>
<text transform="translate(503.50,353.00) scale(1,1.08)" font-size="7.7" text-anchor="end" font-weight="normal" >7.0 months (5.0, 8.3)</text>
<text transform="translate(393.60,317.90) scale(1,1.08)" font-size="7.7" text-anchor="start" font-weight="normal" text-decoration="underline">Median Overall Survival (95%CI)</text>
<text transform="translate(16.20,553.10) scale(1,1.08)" font-size="7.7" text-anchor="start" font-weight="normal" text-decoration="underline">Patients at risk</text>
<text transform="translate(66.60,553.10) scale(1,1.08)" font-size="7.7" text-anchor="start" font-weight="normal" >:</text>
<text transform="translate(16.20,564.40) scale(1,1.08)" font-size="7.7" text-anchor="start" font-weight="normal" >CR</text>
<text transform="translate(93.70,564.40) scale(1,1.08)" font-size="7.7" text-anchor="middle" font-weight="normal" >34</text>
<text transform="translate(139.76,564.40) scale(1,1.08)" font-size="7.7" text-anchor="middle" font-weight="normal" >34</text>
<text transform="translate(185.81,564.40) scale(1,1.08)" font-size="7.7" text-anchor="middle" font-weight="normal" >31</text>
<text transform="translate(231.87,564.40) scale(1,1.08)" font-size="7.7" text-anchor="middle" font-weight="normal" >25</text>
<text transform="translate(277.92,564.40) scale(1,1.08)" font-size="7.7" text-anchor="middle" font-weight="normal" >15</text>
<text transform="translate(323.98,564.40) scale(1,1.08)" font-size="7.7" text-anchor="middle" font-weight="normal" >11</text>
<text transform="translate(370.03,564.40) scale(1,1.08)" font-size="7.7" text-anchor="middle" font-weight="normal" >6</text>
<text transform="translate(416.09,564.40) scale(1,1.08)" font-size="7.7" text-anchor="middle" font-weight="normal" >2</text>
<text transform="translate(462.14,564.40) scale(1,1.08)" font-size="7.7" text-anchor="middle" font-weight="normal" >0</text>
<text transform="translate(16.20,576.20) scale(1,1.08)" font-size="7.7" text-anchor="start" font-weight="normal" >Non-CR response</text>
<text transform="translate(93.70,576.20) scale(1,1.08)" font-size="7.7" text-anchor="middle" font-weight="normal" >37</text>
<text transform="translate(139.76,576.20) scale(1,1.08)" font-size="7.7" text-anchor="middle" font-weight="normal" >34</text>
<text transform="translate(185.81,576.20) scale(1,1.08)" font-size="7.7" text-anchor="middle" font-weight="normal" >30</text>
<text transform="translate(231.87,576.20) scale(1,1.08)" font-size="7.7" text-anchor="middle" font-weight="normal" >17</text>
<text transform="translate(277.92,576.20) scale(1,1.08)" font-size="7.7" text-anchor="middle" font-weight="normal" >11</text>
<text transform="translate(323.98,576.20) scale(1,1.08)" font-size="7.7" text-anchor="middle" font-weight="normal" >7</text>
<text transform="translate(370.03,576.20) scale(1,1.08)" font-size="7.7" text-anchor="middle" font-weight="normal" >3</text>
<text transform="translate(416.09,576.20) scale(1,1.08)" font-size="7.7" text-anchor="middle" font-weight="normal" >1</text>
<text transform="translate(462.14,576.20) scale(1,1.08)" font-size="7.7" text-anchor="middle" font-weight="normal" >1</text>
<text transform="translate(508.20,576.20) scale(1,1.08)" font-size="7.7" text-anchor="middle" font-weight="normal" >0</text>
<text transform="translate(16.20,587.70) scale(1,1.08)" font-size="7.7" text-anchor="start" font-weight="normal" >No response</text>
<text transform="translate(93.70,587.70) scale(1,1.08)" font-size="7.7" text-anchor="middle" font-weight="normal" >97</text>
<text transform="translate(139.76,587.70) scale(1,1.08)" font-size="7.7" text-anchor="middle" font-weight="normal" >68</text>
<text transform="translate(185.81,587.70) scale(1,1.08)" font-size="7.7" text-anchor="middle" font-weight="normal" >43</text>
<text transform="translate(231.87,587.70) scale(1,1.08)" font-size="7.7" text-anchor="middle" font-weight="normal" >20</text>
<text transform="translate(277.92,587.70) scale(1,1.08)" font-size="7.7" text-anchor="middle" font-weight="normal" >10</text>
<text transform="translate(323.98,587.70) scale(1,1.08)" font-size="7.7" text-anchor="middle" font-weight="normal" >3</text>
<text transform="translate(370.03,587.70) scale(1,1.08)" font-size="7.7" text-anchor="middle" font-weight="normal" >1</text>
<text transform="translate(416.09,587.70) scale(1,1.08)" font-size="7.7" text-anchor="middle" font-weight="normal" >0</text>
<text transform="translate(16.20,606.90) scale(1,1.08)" font-size="7.7" text-anchor="start" font-weight="normal" >CR, complete remission</text>
</g>
</svg></body></html>
